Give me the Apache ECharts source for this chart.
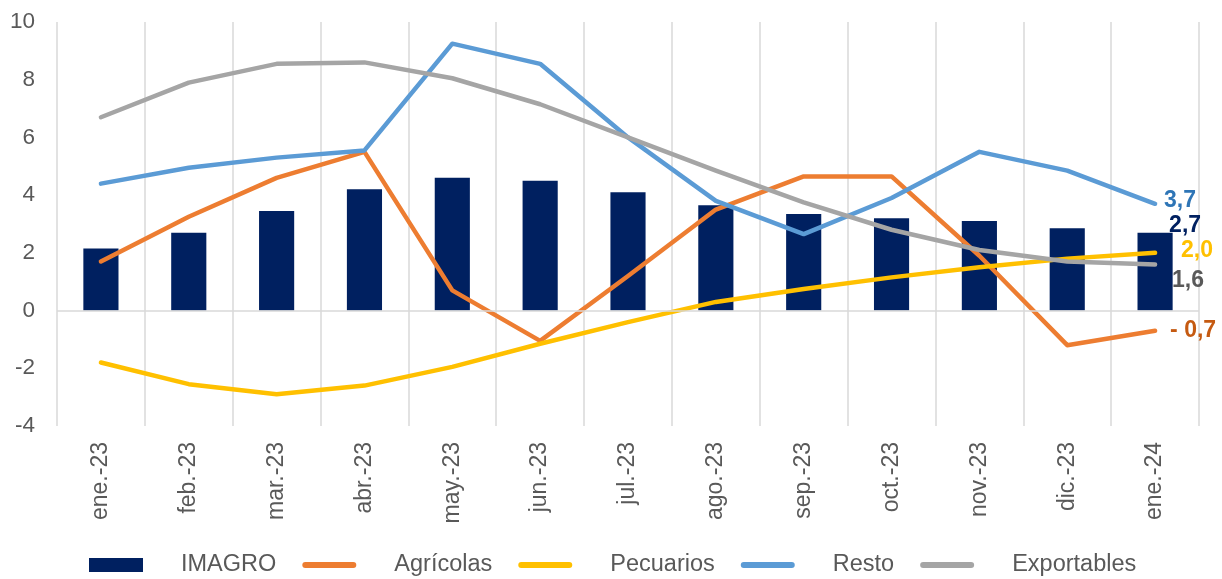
<!DOCTYPE html>
<html><head><meta charset="utf-8">
<script src="https://cdn.jsdelivr.net/npm/echarts@6/dist/echarts.min.js"></script>
<style>html,body{margin:0;padding:0;background:#fff}#c{width:1222px;height:579px}</style>
</head><body><div id="c"></div>
<script>
const categories = ['ene.-23','feb.-23','mar.-23','abr.-23','may.-23','jun.-23','jul.-23','ago.-23','sep.-23','oct.-23','nov.-23','dic.-23','ene.-24'];
const imagro = [2.15, 2.7, 3.45, 4.2, 4.6, 4.5, 4.1, 3.65, 3.35, 3.2, 3.1, 2.85, 2.7];
const agricolas = [1.7, 3.25, 4.6, 5.5, 0.7, -1.05, 1.2, 3.5, 4.65, 4.65, 1.9, -1.2, -0.7];
const pecuarios = [-1.8, -2.55, -2.9, -2.6, -1.95, -1.15, -0.4, 0.3, 0.75, 1.15, 1.5, 1.8, 2.0];
const resto = [4.4, 4.95, 5.3, 5.55, 9.25, 8.55, 6.0, 3.8, 2.65, 3.9, 5.5, 4.85, 3.7];
const exportables = [6.7, 7.9, 8.55, 8.6, 8.05, 7.15, 6.0, 4.85, 3.75, 2.8, 2.1, 1.7, 1.6];
const yTicks = [-4, -2, 0, 2, 4, 6, 8, 10];

const fmt = v => (v < 0 ? '- ' : '') + Math.abs(v).toFixed(1).replace('.', ',');
const FONT = 'Liberation Sans, Arial, sans-serif';
const LINE_ICON = 'path://M0,0 M3,4 L51,4 Q54,4 54,7 Q54,10 51,10 L3,10 Q0,10 0,7 Q0,4 3,4 Z M54,14';
const chart = echarts.init(document.getElementById('c'), null, {renderer: 'canvas'});

function lineSeries(name, data, color, labelColor, offset) {
  return {
    name, type: 'line', data, symbol: 'none', z: 3,
    lineStyle: {color, width: 4.5, cap: 'round', join: 'round'},
    itemStyle: {color},
    endLabel: {show: true, formatter: p => fmt(p.value), color: labelColor,
      fontFamily: FONT, fontWeight: 'bold', fontSize: 23, distance: 9, offset: offset}
  };
}

chart.setOption({
  animation: false,
  grid: {left: 57, right: 23, top: 22, bottom: 153},
  legend: {
    top: 548, left: 84, itemWidth: 54, itemHeight: 14, itemGap: 26,
    textStyle: {color: '#595959', fontSize: 23.5, fontFamily: FONT, padding: [0, 0, 0, 33]},
    data: [
      {name: 'IMAGRO', icon: 'rect'},
      {name: 'Agrícolas', icon: LINE_ICON},
      {name: 'Pecuarios', icon: LINE_ICON},
      {name: 'Resto', icon: LINE_ICON},
      {name: 'Exportables', icon: LINE_ICON}
    ]
  },
  xAxis: {
    type: 'category', data: categories, boundaryGap: true,
    axisLine: {show: false, onZero: false}, axisTick: {show: false},
    axisLabel: {rotate: 90, color: '#595959', fontSize: 23, fontFamily: FONT, margin: 16, interval: 0},
    splitLine: {show: true, interval: 0, lineStyle: {color: '#d9d9d9', width: 1.5}}
  },
  yAxis: {
    type: 'value', min: -4, max: 10, interval: 2,
    axisLine: {show: false}, axisTick: {show: false}, splitLine: {show: false},
    axisLabel: {color: '#595959', fontSize: 22.5, fontFamily: FONT, margin: 22,
      formatter: v => yTicks.includes(v) ? String(v) : ''}
  },
  series: [
    {
      name: 'IMAGRO', type: 'bar', barWidth: '40%', z: 2,
      itemStyle: {color: '#002060'},
      data: imagro.map((v, i) => i === imagro.length - 1 ? {
        value: v,
        label: {show: true, position: 'top', formatter: p => fmt(p.value), color: '#002060',
          fontFamily: FONT, fontWeight: 'bold', fontSize: 23, offset: [30, 9]}
      } : v),
      markLine: {silent: true, symbol: 'none', label: {show: false},
        lineStyle: {color: '#d9d9d9', width: 1.5, type: 'solid'}, data: [{yAxis: 0}]}
    },
    lineSeries('Agrícolas', agricolas, '#ED7D31', '#C55A11', [6, 0]),
    lineSeries('Pecuarios', pecuarios, '#FFC000', '#FFC000', [17, -2]),
    lineSeries('Resto', resto, '#5B9BD5', '#2E75B6', [0, -3]),
    lineSeries('Exportables', exportables, '#A5A5A5', '#595959', [8, 16])
  ]
});
</script></body></html>
